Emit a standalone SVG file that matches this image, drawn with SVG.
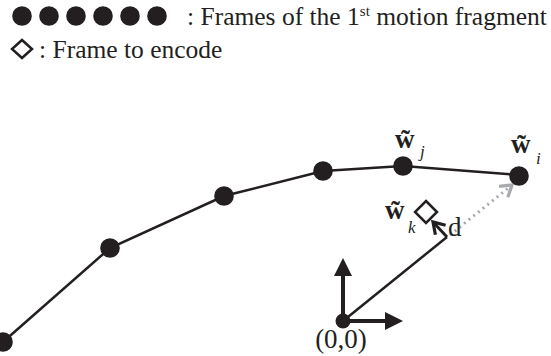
<svg xmlns="http://www.w3.org/2000/svg" width="551" height="356" viewBox="0 0 551 356">
<style>
text{font-family:"Liberation Serif","Times New Roman",serif;fill:#231f20}
.dot{fill:#231f20}
.lbl{font-size:25.5px}
.big{font-size:27px}
.w{font-size:27px;font-weight:bold}
.sub{font-size:17px;font-style:italic}
.edge{stroke:#231f20;stroke-width:2.5;fill:none}
.axis{stroke:#231f20;stroke-width:4;fill:none}
.dia{fill:#fff;stroke:#231f20;stroke-width:2.5}
</style>
<defs>
<marker id="tri" markerUnits="userSpaceOnUse" markerWidth="18" markerHeight="18" viewBox="0 0 18 18" refX="6" refY="9" orient="auto">
<path d="M0,0 L18,9 L0,18 z" fill="#231f20"/>
</marker>
<marker id="chevK" markerUnits="userSpaceOnUse" markerWidth="18" markerHeight="18" viewBox="0 0 18 18" refX="14" refY="9" orient="auto">
<path d="M3,2 L14,9 L3,16" fill="none" stroke="#231f20" stroke-width="3.2"/>
</marker>
<marker id="chevG" markerUnits="userSpaceOnUse" markerWidth="18" markerHeight="18" viewBox="0 0 18 18" refX="14" refY="9" orient="auto">
<path d="M3,2 L14,9 L3,16" fill="none" stroke="#a7a9ac" stroke-width="3.2"/>
</marker>
</defs>

<g id="legend">
<circle class="dot" cx="22" cy="16" r="9.8"/>
<circle class="dot" cx="49" cy="16" r="9.8"/>
<circle class="dot" cx="76" cy="16" r="9.8"/>
<circle class="dot" cx="103" cy="16" r="9.8"/>
<circle class="dot" cx="130" cy="16" r="9.8"/>
<circle class="dot" cx="157" cy="16" r="9.8"/>
<text class="lbl" x="187" y="25">: Frames of the 1<tspan font-size="15" dy="-9">st</tspan><tspan dy="9"> motion fragment</tspan></text>
<path class="dia" d="M22,40 L32,49 L22,58 L12,49 z"/>
<text class="lbl" x="39" y="58">: Frame to encode</text>
</g>

<g id="connectors">
<polyline class="edge" points="3,342 110,248 224,196 323,171 403,166 519,175"/>
<line class="axis" x1="343" y1="321" x2="343" y2="270" marker-end="url(#tri)"/>
<line class="axis" x1="343" y1="321" x2="391" y2="321" marker-end="url(#tri)"/>
<line class="edge" x1="343" y1="321" x2="447" y2="237"/>
<line stroke="#231f20" stroke-width="3" x1="447" y1="237" x2="433" y2="222" marker-end="url(#chevK)"/>
<line stroke="#a7a9ac" stroke-width="3" stroke-dasharray="2 4" x1="450" y1="235" x2="512" y2="185" marker-end="url(#chevG)"/>
</g>

<g id="n1"><circle class="dot" cx="3" cy="342" r="9.8"/></g>
<g id="n2"><circle class="dot" cx="110" cy="248" r="9.8"/></g>
<g id="n3"><circle class="dot" cx="224" cy="196" r="9.8"/></g>
<g id="n4"><circle class="dot" cx="323" cy="171" r="9.8"/></g>
<g id="nj"><circle class="dot" cx="403" cy="166" r="9.8"/>
<text class="w" x="395" y="148">w̃</text><text class="sub" x="420" y="157">j</text></g>
<g id="ni"><circle class="dot" cx="519" cy="176" r="9.8"/>
<text class="w" x="511" y="153">w̃</text><text class="sub" x="536" y="164">i</text></g>
<g id="nk"><path class="dia" d="M426,201 L437,212 L426,223 L415,212 z"/>
<text class="w" x="385" y="219">w̃</text><text class="sub" x="408" y="233">k</text>
<text class="big" x="448" y="236">d</text></g>
<g id="origin"><circle class="dot" cx="343" cy="321" r="7.5"/>
<text class="big" x="341" y="348" text-anchor="middle">(0,0)</text></g>
</svg>
